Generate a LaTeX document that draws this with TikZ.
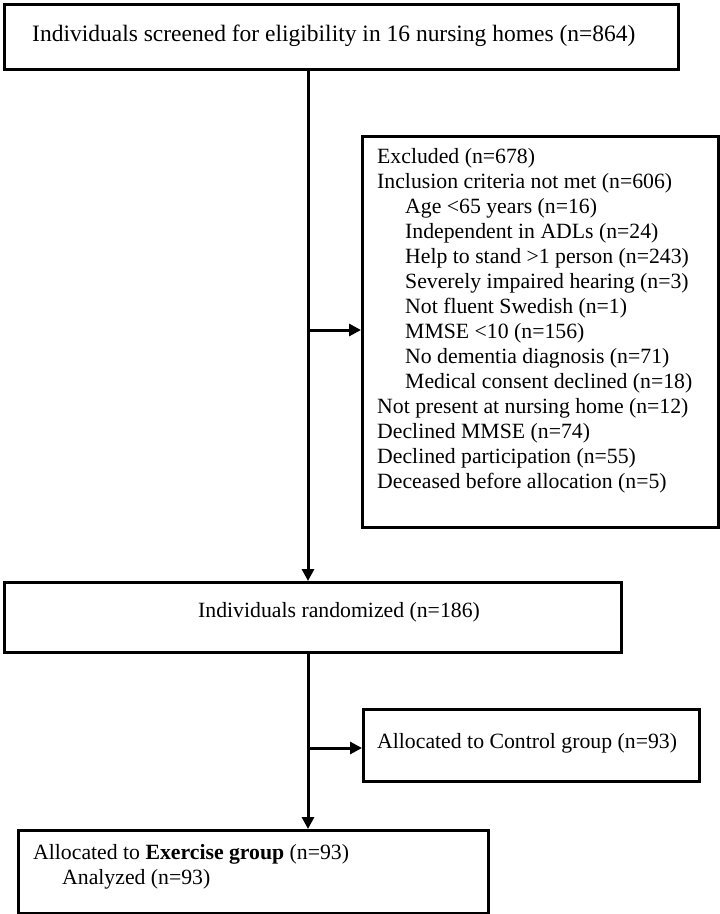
\documentclass[tikz,border=0pt]{standalone}
\usepackage{fontspec}
\setmainfont{Liberation Serif}
\usetikzlibrary{arrows.meta}
\begin{document}
\begin{tikzpicture}[x=1pt,y=-1pt,
  box/.style={draw, line width=3pt, rectangle, inner sep=0pt, anchor=north west},
  txt/.style={inner sep=0pt, anchor=base west, font=\fontsize{21.75}{25}\selectfont},
  bigtxt/.style={inner sep=0pt, anchor=base west, font=\fontsize{23.5}{27}\selectfont},
  arr/.style={line width=3pt, -{Triangle[length=12pt,width=12pt]}}]
\useasboundingbox[fill=white] (0,0) rectangle (720,914);

% boxes
\node[box, minimum width=674pt, minimum height=65pt] (top) at (3,3) {};
\node[box, minimum width=356pt, minimum height=391pt] (excl) at (361,135) {};
\node[box, minimum width=617pt, minimum height=70pt] (rand) at (3,581) {};
\node[box, minimum width=336pt, minimum height=72pt] (ctrl) at (362,708) {};
\node[box, minimum width=470pt, minimum height=83pt] (bot) at (17,829) {};

% texts
\node[bigtxt] (ttop) at (32,41) {Individuals screened for eligibility in 16 nursing homes (n=864)};

\node[txt] (e1) at (377,163) {Excluded (n=678)};
\node[txt] (e2) at (377,188) {Inclusion criteria not met (n=606)};
\node[txt] (e3) at (405,213) {Age <65 years (n=16)};
\node[txt] (e4) at (405,238) {Independent in ADLs (n=24)};
\node[txt] (e5) at (405,263) {Help to stand >1 person (n=243)};
\node[txt] (e6) at (405,288) {Severely impaired hearing (n=3)};
\node[txt] (e7) at (405,313) {Not fluent Swedish (n=1)};
\node[txt] (e8) at (405,338) {MMSE <10 (n=156)};
\node[txt] (e9) at (405,363) {No dementia diagnosis (n=71)};
\node[txt] (e10) at (405,388) {Medical consent declined (n=18)};
\node[txt] (e11) at (377,413) {Not present at nursing home (n=12)};
\node[txt] (e12) at (377,438) {Declined MMSE (n=74)};
\node[txt] (e13) at (377,463) {Declined participation (n=55)};
\node[txt] (e14) at (377,488) {Deceased before allocation (n=5)};

\node[txt] (trand) at (198,617) {Individuals randomized (n=186)};
\node[txt] (tctrl) at (377,748) {Allocated to Control group (n=93)};
\node[txt] (tbot1) at (33,859) {Allocated to \textbf{Exercise group} (n=93)};
\node[txt] (tbot2) at (62,884) {Analyzed (n=93)};

% connectors
\coordinate (c1) at (308,330);
\coordinate (c2) at (308,748);
\draw[arr] (top.south -| c1) -- (rand.north -| c1);
\draw[arr] (c1) -- (excl.west |- c1);
\draw[arr] (rand.south -| c2) -- (bot.north -| c2);
\draw[arr] (c2) -- (ctrl.west |- c2);
\end{tikzpicture}
\end{document}
